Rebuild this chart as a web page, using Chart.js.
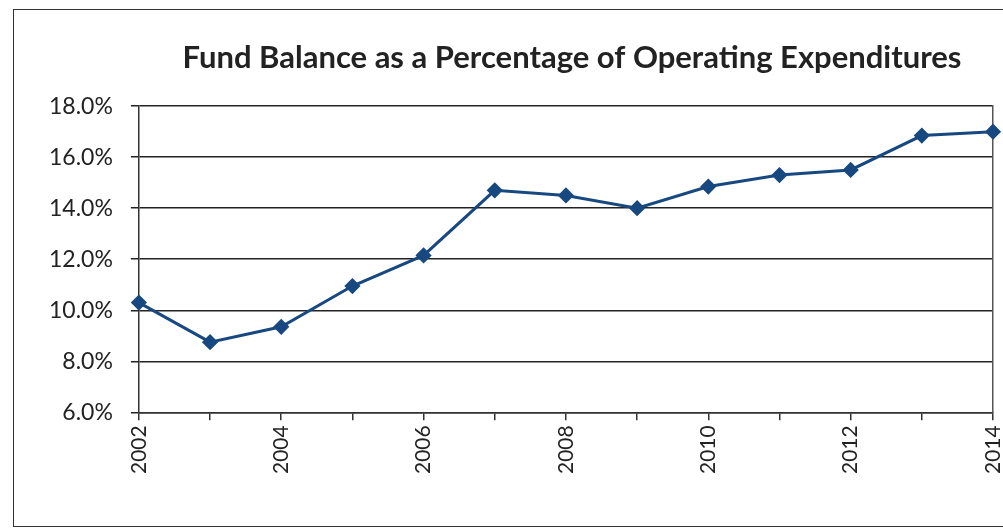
<!DOCTYPE html>
<html>
<head>
<meta charset="utf-8">
<script src="https://cdn.jsdelivr.net/npm/chart.js@4"></script>
<style>
  html, body { margin: 0; padding: 0; background: #fff; overflow: hidden; }
  #wrap { position: relative; width: 1003px; height: 531px; overflow: hidden; }
  #frame { position: absolute; left: 13px; top: 9px; width: 1010px; height: 518px; border: 1.5px solid #333; box-sizing: border-box; }
  #fundChart { position: absolute; left: 0; top: 0; }
</style>
</head>
<body>
<div id="wrap">
  <div id="frame"></div>
  <canvas id="fundChart" width="1119" height="531"></canvas>
</div>
<script>
var anos = ['2002', '2003', '2004', '2005', '2006', '2007', '2008', '2009', '2010', '2011', '2012', '2013', '2014'];
var porcentajes = [10.3, 8.75, 9.35, 10.95, 12.15, 14.7, 14.5, 14.0, 14.85, 15.3, 15.5, 16.85, 17.0];
var tituloGrafico = 'Fund Balance as a Percentage of Operating Expenditures';

var fuente = "Lato, 'Open Sans', sans-serif";
var azul = 'rgb(24, 72, 128)';

var fund_chart = document.getElementById('fundChart');
var fundChart = new Chart(fund_chart, {
    type: 'line',
    data: {
        labels: anos,
        datasets: [{
            label: 'Fund Balance',
            data: porcentajes,
            borderColor: azul,
            backgroundColor: azul,
            borderWidth: 3,
            pointStyle: 'rectRot',
            pointRadius: 6,
            pointBackgroundColor: azul,
            pointBorderColor: azul,
            tension: 0,
            fill: false
        }, {
            label: 'border',
            data: [],
            yAxisID: 'y2'
        }]
    },
    options: {
        responsive: false,
        animation: false,
        layout: {
            padding: { top: 29, left: 31, right: 6, bottom: 52 }
        },
        plugins: {
            legend: { display: false },
            tooltip: { enabled: false },
            title: {
                display: true,
                text: tituloGrafico,
                color: '#222',
                font: { family: fuente, size: 31, weight: 'bold' },
                padding: { top: 10, bottom: 30 }
            }
        },
        scales: {
            x: {
                offset: false,
                grid: {
                    display: true,
                    drawOnChartArea: false,
                    drawTicks: true,
                    tickLength: 8,
                    color: '#333',
                    lineWidth: 1.5
                },
                border: { display: true, color: '#333', width: 1.5 },
                ticks: {
                    autoSkip: false,
                    maxRotation: 90,
                    minRotation: 90,
                    padding: 5,
                    color: '#222',
                    font: { family: fuente, size: 21 },
                    callback: function (val, i) {
                        return i % 2 === 0 ? anos[i] : '';
                    }
                }
            },
            y: {
                min: 6,
                max: 18,
                grid: {
                    color: '#222',
                    lineWidth: 1.5,
                    tickLength: 8
                },
                border: { display: true, color: '#333', width: 1.5 },
                ticks: {
                    stepSize: 2,
                    padding: 18,
                    color: '#222',
                    font: { family: fuente, size: 23 },
                    callback: function (val) {
                        return val.toFixed(1) + '%';
                    }
                }
            },
            y2: {
                position: 'right',
                min: 6,
                max: 18,
                grid: { display: false },
                border: { display: true, color: '#555', width: 1.5 },
                ticks: { display: false },
                afterFit: function (axis) {
                    axis.width = 120;
                }
            }
        }
    }
});
</script>
</body>
</html>
